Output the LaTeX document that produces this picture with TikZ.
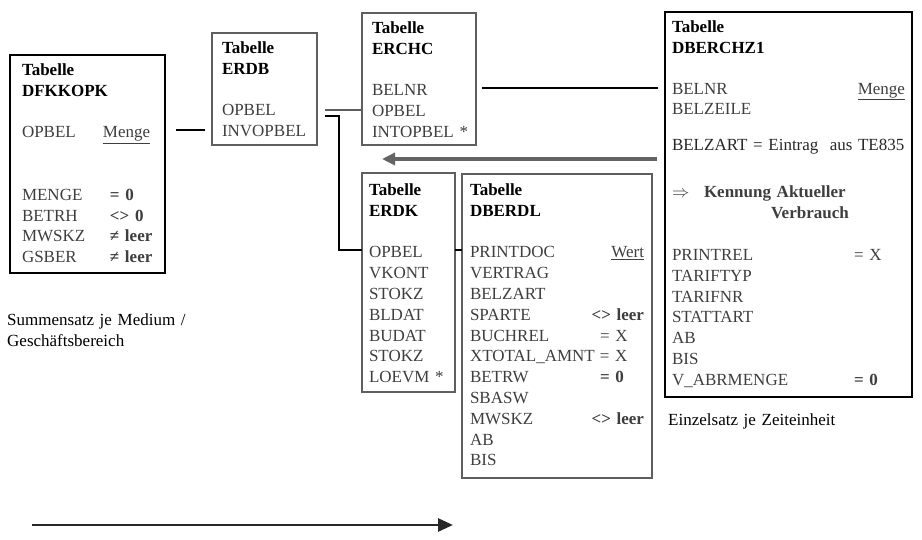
\documentclass[tikz,border=0pt]{standalone}
\usepackage{fontspec}
\setmainfont{Liberation Serif}
\usepackage{tikz}
\usetikzlibrary{arrows.meta,positioning,calc}
\usepackage{xcolor}
\definecolor{cField}{RGB}{62,62,62}
\definecolor{cLine}{RGB}{95,95,95}
\definecolor{cArrow}{RGB}{100,100,100}
\definecolor{cDark}{RGB}{40,40,40}
\newcommand{\tabfont}{\fontsize{17}{20.8}\selectfont}
\newcommand{\tabhead}[1]{\textbf{\textcolor{black}{#1}}}
\newcommand{\tabval}[1]{\textbf{#1}}
\newcommand{\rcol}[1]{\hfill#1\hspace*{7pt}}
\tikzset{
  basebox/.style={rectangle,anchor=north west,align=left,inner ysep=0pt,
                  outer sep=0pt,font=\tabfont,text=cField},
  mainnode/.style={basebox,draw=black,line width=2.8pt},
  subnode/.style={basebox,draw=cLine,line width=1.3pt},
  notenode/.style={anchor=base west,align=left,inner sep=0pt,font=\tabfont,
                   text=black,text width=240pt},
  link/.style={draw=black,line width=1.1pt},
  graylink/.style={draw=cLine,line width=2pt},
  grayarr/.style={-{Triangle[length=13pt,width=12pt]},draw=cArrow,line width=4pt},
  timearr/.style={-{Triangle[length=15pt,width=13pt]},draw=cDark,line width=2.8pt}
}
\begin{document}
\begin{tikzpicture}[x=1pt,y=-1pt]
  \useasboundingbox (0,0) rectangle (922,540);

  \node[mainnode,text width=131pt,inner xsep=12pt,text height=20.5pt,text depth=197.5pt]
      (dfkkopk) at (10,55)
      {\tabhead{Tabelle}\\
       \tabhead{DFKKOPK}\\[20.8pt]
       \makebox[81pt][l]{OPBEL}\underline{Menge}\\[41.6pt]
       \makebox[88pt][l]{MENGE}\tabval{=~0}\\
       \makebox[88pt][l]{BETRH}\tabval{<>~0}\\
       \makebox[88pt][l]{MWSKZ}\tabval{≠~leer}\\
       \makebox[88pt][l]{GSBER}\tabval{≠~leer}};

  \node[subnode,text width=85pt,inner xsep=10pt,text height=20.5pt,text depth=91.5pt]
      (erdb) at (212,33)
      {\tabhead{Tabelle}\\ \tabhead{ERDB}\\[20.8pt] OPBEL\\ INVOPBEL};

  \node[subnode,text width=94pt,inner xsep=10pt,text height=20.5pt,text depth=111.5pt]
      (erchc) at (362,13)
      {\tabhead{Tabelle}\\ \tabhead{ERCHC}\\[20.8pt] BELNR\\ OPBEL\\ INTOPBEL~*};

  \node[mainnode,text width=233pt,inner xsep=7pt,text height=20.5pt,text depth=364.5pt]
      (dberchz) at (665,12)
      {\tabhead{Tabelle}\\
       \tabhead{DBERCHZ1}\\[20pt]
       BELNR\hfill\underline{Menge}\hspace*{6pt}\\
       BELZEILE\\[15pt]
       \mbox{\textcolor{black!85}{BELZART = Eintrag\ \ aus TE835}}\\[26pt]
       \makebox[32pt][l]{$\Rightarrow$}\tabval{Kennung Aktueller}\\
       \hspace*{99pt}\tabval{Verbrauch}\\[21.5pt]
       \makebox[182pt][l]{PRINTREL}= X\\
       TARIFTYP\\
       TARIFNR\\
       STATTART\\
       AB\\
       BIS\\
       \makebox[182pt][l]{V\_ABRMENGE}\tabval{=~0}};

  \node[subnode,text width=79pt,inner xsep=7pt,text height=22.5pt,text depth=196.5pt]
      (erdk) at (362,173)
      {\tabhead{Tabelle}\\ \tabhead{ERDK}\\[20.8pt]
       OPBEL\\ VKONT\\ STOKZ\\ BLDAT\\ BUDAT\\ STOKZ\\ LOEVM~*};

  \node[subnode,text width=174pt,inner xsep=8pt,text height=21.5pt,text depth=282.5pt]
      (dberdl) at (462,174)
      {\tabhead{Tabelle}\\ \tabhead{DBERDL}\\[20.8pt]
       PRINTDOC\rcol{\underline{Wert}}\\
       VERTRAG\\
       BELZART\\
       SPARTE\rcol{\tabval{<>~leer}}\\
       \makebox[130pt][l]{BUCHREL}= X\\
       \makebox[130pt][l]{XTOTAL\_AMNT}= X\\
       \makebox[130pt][l]{BETRW}\tabval{=~0}\\
       SBASW\\
       MWSKZ\rcol{\tabval{<>~leer}}\\
       AB\\
       BIS};

  \node[notenode] (sumtxt) at (7,325.5) {Summensatz je Medium /\\Geschäftsbereich};
  \node[notenode] (einztxt) at (668,425.5) {Einzelsatz je Zeiteinheit};

  % row levels of the links
  \coordinate (rowBN) at (0,88);
  \coordinate (rowOP) at (0,110);
  \coordinate (rowB) at (0,116);
  \coordinate (rowDF) at (0,130);
  \coordinate (rowAr) at (0,159);
  \coordinate (rowC) at (0,250);
  \coordinate (timeL) at (32,525);
  \coordinate (timeR) at (453,525);

  \draw[link,shorten <=11pt,shorten >=7pt] (dfkkopk.east |- rowDF) -- (erdb.west |- rowDF);
  \draw[graylink,shorten <=8pt] (erdb.east |- rowOP) -- (erchc.west |- rowOP);
  \draw[link,shorten <=8pt] (erdb.east |- rowB) -- ++(22,0) |- (erdk.west |- rowC);
  \draw[link,shorten <=6pt,shorten >=7pt] (erchc.east |- rowBN) -- (dberchz.west |- rowBN);
  \draw[grayarr,shorten <=8pt,shorten >=20pt] (dberchz.west |- rowAr) -- (erdk.west |- rowAr);
  \draw[link] (erdk.east |- rowC) -- (dberdl.west |- rowC);
  \draw[timearr] (timeL) -- (timeR);

\end{tikzpicture}
\end{document}
